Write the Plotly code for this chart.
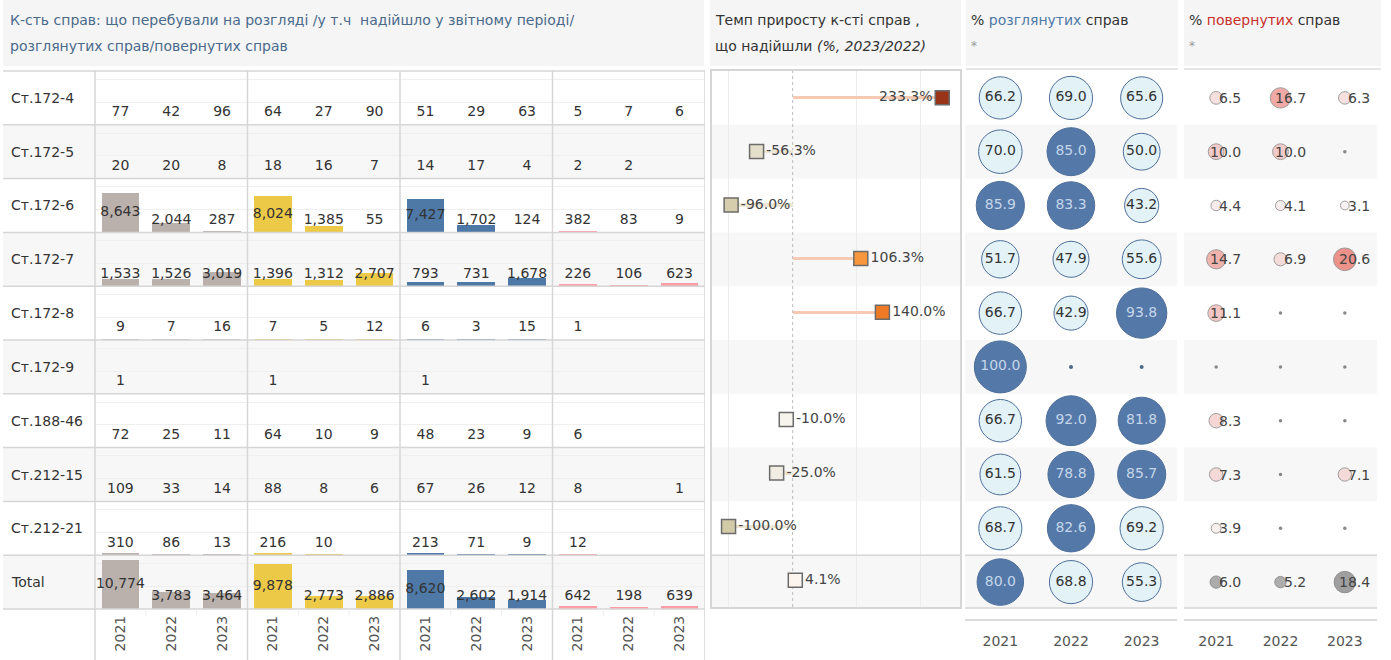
import plotly.graph_objects as go

# ---------------- data ----------------
rows = ["Ст.172-4", "Ст.172-5", "Ст.172-6", "Ст.172-7", "Ст.172-8", "Ст.172-9",
        "Ст.188-46", "Ст.212-15", "Ст.212-21", "Total"]
years = ["2021", "2022", "2023"]

pending = [[77, 42, 96], [20, 20, 8], [8643, 2044, 287], [1533, 1526, 3019], [9, 7, 16],
           [1, None, None], [72, 25, 11], [109, 33, 14], [310, 86, 13], [10774, 3783, 3464]]
received = [[64, 27, 90], [18, 16, 7], [8024, 1385, 55], [1396, 1312, 2707], [7, 5, 12],
            [1, None, None], [64, 10, 9], [88, 8, 6], [216, 10, None], [9878, 2773, 2886]]
considered = [[51, 29, 63], [14, 17, 4], [7427, 1702, 124], [793, 731, 1678], [6, 3, 15],
              [1, None, None], [48, 23, 9], [67, 26, 12], [213, 71, 9], [8620, 2602, 1914]]
returned = [[5, 7, 6], [2, 2, None], [382, 83, 9], [226, 106, 623], [1, None, None],
            [None, None, None], [6, None, None], [8, None, 1], [12, None, None], [642, 198, 639]]

growth = [233.3, -56.3, -96.0, 106.3, 140.0, None, -10.0, -25.0, -100.0, 4.1]

pct_considered = [[66.2, 69.0, 65.6], [70.0, 85.0, 50.0], [85.9, 83.3, 43.2], [51.7, 47.9, 55.6],
                  [66.7, 42.9, 93.8], [100.0, None, None], [66.7, 92.0, 81.8], [61.5, 78.8, 85.7],
                  [68.7, 82.6, 69.2], [80.0, 68.8, 55.3]]
pct_returned = [[6.5, 16.7, 6.3], [10.0, 10.0, None], [4.4, 4.1, 3.1], [14.7, 6.9, 20.6],
                [11.1, None, None], [None, None, None], [8.3, None, None], [7.3, None, 7.1],
                [3.9, None, None], [6.0, 5.2, 18.4]]

group_colors = ["#BAB0AC", "#EDC948", "#4E79A7", "#FF9DA7"]

# ---------------- layout helpers ----------------
W, H = 1391, 660
FONT = "DejaVu Sans"
TOP, BOT = 71, 609
NR = len(rows)
RH = (BOT - TOP) / NR
YMAX = 11800
LABEL_FLOOR = 12 / RH * YMAX
GRID = "#d6d6d6"
ROWBG = "#f7f7f7"


def px(x):
    return x / W


def py(y):
    return 1 - y / H


fig = go.Figure()
shapes = []
annotations = []

# ---------------- left table: bars ----------------
groups = [pending, received, considered, returned]
for r in range(NR):
    yname = "y" if r == 0 else f"y{r + 1}"
    xs_all, ys_all, txt_all = [], [], []
    for g, data in enumerate(groups):
        xs = [3 * g + j for j in range(3)]
        vals = data[r]
        fig.add_trace(go.Bar(x=xs, y=vals, xaxis="x", yaxis=yname, width=0.74,
                             marker=dict(color=group_colors[g], line=dict(width=0)),
                             hoverinfo="skip"))
        for x, v in zip(xs, vals):
            if v is not None:
                xs_all.append(x)
                ys_all.append(max(v / 2, LABEL_FLOOR))
                txt_all.append(f"{v:,}")
    fig.add_trace(go.Scatter(x=xs_all, y=ys_all, text=txt_all, mode="text", xaxis="x", yaxis=yname,
                             textposition="middle center", cliponaxis=False,
                             textfont=dict(family=FONT, size=14, color="#333333"), hoverinfo="skip"))

# ---------------- growth chart ----------------
g_rows = [rw for rw, v in zip(rows, growth) if v is not None]
g_vals = [v for v in growth if v is not None]
fig.add_trace(go.Bar(x=g_vals, y=g_rows, orientation="h", width=0.06, xaxis="x2", yaxis="y11",
                     marker=dict(color=["#f6c9b2" if v > 0 else "#ece6d4" for v in g_vals],
                                 line=dict(width=0)), hoverinfo="skip"))
fig.add_trace(go.Scatter(
    x=g_vals, y=g_rows, xaxis="x2", yaxis="y11", mode="markers+text",
    text=[f"{v:.1f}%" for v in g_vals],
    textposition=["middle left" if v > 200 else "middle right" for v in g_vals],
    textfont=dict(family=FONT, size=14, color="#444444"),
    marker=dict(symbol="square", size=14, color=g_vals, cmin=-100, cmax=233.3,
                colorscale=[[0, "#d3cba8"], [0.3, "#fbf8f6"], [0.62, "#f7963b"],
                            [0.72, "#ee7a25"], [1, "#9a3418"]],
                line=dict(color="#6b6b6b", width=1.5)),
    cliponaxis=False, hoverinfo="skip"))

# ---------------- % considered bubbles ----------------
bx, by, bv, dx, dy = [], [], [], [], []
for r in range(NR):
    for j, yr in enumerate(years):
        v = pct_considered[r][j]
        if v is None:
            dx.append(yr); dy.append(rows[r])
        else:
            bx.append(yr); by.append(rows[r]); bv.append(v)
fig.add_trace(go.Scatter(
    x=bx, y=by, xaxis="x3", yaxis="y12", mode="markers+text",
    text=[f"{v:.1f}" for v in bv], textposition="middle center",
    textfont=dict(family=FONT, size=14, color=["#c4d6ea" if v >= 75 else "#333333" for v in bv]),
    marker=dict(size=bv, sizemode="area", sizeref=2 * 100 / 52 ** 2,
                color=["#5479a8" if v >= 75 else "#e2f2f7" for v in bv],
                line=dict(color="#4e6f9a", width=1), opacity=1),
    cliponaxis=False, hoverinfo="skip"))
fig.add_trace(go.Scatter(x=dx, y=dy, xaxis="x3", yaxis="y12", mode="markers",
                         marker=dict(size=4, color="#4e6a8a"), hoverinfo="skip"))

# ---------------- % returned bubbles ----------------
rx, ry, rv, tx, ty, tv, ex, ey = [], [], [], [], [], [], [], []
for r in range(NR):
    for j, yr in enumerate(years):
        v = pct_returned[r][j]
        if v is None:
            ex.append(yr); ey.append(rows[r])
        elif rows[r] == "Total":
            tx.append(yr); ty.append(rows[r]); tv.append(v)
        else:
            rx.append(yr); ry.append(rows[r]); rv.append(v)
        if v is not None:
            # category index positions on the x4 / y13 axes
            annotations.append(dict(x=j, y=r, xref="x4", yref="y13", text=f"{v:.1f}",
                                    showarrow=False, xanchor="right", yanchor="middle", xshift=27,
                                    font=dict(family=FONT, size=14, color="#444444")))
fig.add_trace(go.Scatter(
    x=rx, y=ry, xaxis="x4", yaxis="y13", mode="markers",
    marker=dict(size=rv, sizemode="area", sizeref=0.08, color=rv, cmin=3, cmax=21,
                colorscale=[[0, "#f6eeee"], [1, "#e8655b"]], line=dict(color="#777777", width=1)),
    cliponaxis=False, hoverinfo="skip"))
fig.add_trace(go.Scatter(
    x=tx, y=ty, xaxis="x4", yaxis="y13", mode="markers",
    marker=dict(size=tv, sizemode="area", sizeref=0.08, color=tv, cmin=5, cmax=19,
                colorscale=[[0, "#8e8e8e"], [1, "#7a7a7a"]], line=dict(color="#666666", width=1)),
    cliponaxis=False, hoverinfo="skip"))
fig.add_trace(go.Scatter(x=ex, y=ey, xaxis="x4", yaxis="y13", mode="markers",
                         marker=dict(size=3.5, color="#888888"), hoverinfo="skip"))

# ---------------- axes ----------------
layout_axes = {}
layout_axes["xaxis"] = dict(domain=[px(95), px(705)], range=[-0.5, 11.5], anchor="y10",
                            tickvals=list(range(12)), ticktext=years * 4, tickangle=-90,
                            showgrid=False, zeroline=False, showline=False, ticks="",
                            ticklabelstandoff=3,
                            tickfont=dict(family=FONT, size=14, color="#555555"), fixedrange=True)
for r in range(NR):
    key = "yaxis" if r == 0 else f"yaxis{r + 1}"
    layout_axes[key] = dict(domain=[py(TOP + RH * (r + 1)), py(TOP + RH * r)], range=[0, YMAX],
                            anchor="x", showticklabels=False, showgrid=True, gridcolor="#efefef",
                            gridwidth=1, dtick=5000, tick0=0, zeroline=False, showline=False,
                            fixedrange=True)
layout_axes["xaxis2"] = dict(domain=[px(711.5), px(960)], range=[-126.6, 261], anchor="y11",
                             tickvals=[-100, 100, 200], showticklabels=False, showgrid=True,
                             gridcolor="#ececec", zeroline=False, showline=True, mirror=True,
                             linecolor=GRID, linewidth=1.5, ticks="")
layout_axes["yaxis11"] = dict(domain=[py(607), py(TOP)], type="category", categoryarray=rows,
                              range=[NR - 0.5, -0.5], anchor="x2", showticklabels=False,
                              showgrid=False, zeroline=False, showline=True, mirror=True,
                              linecolor=GRID, linewidth=1.5, ticks="")
for key, dom in [("xaxis3", [px(965), px(1177)]), ("xaxis4", [px(1184), px(1377)])]:
    layout_axes[key] = dict(domain=dom, type="category", categoryarray=years,
                            range=[-0.5, 2.5], anchor="free", position=py(620), showgrid=False,
                            zeroline=False, showline=True, linecolor="#dcdcdc", linewidth=1.5,
                            ticks="", ticklabelstandoff=8,
                            tickfont=dict(family=FONT, size=14, color="#555555"))
for key, anc in [("yaxis12", "x3"), ("yaxis13", "x4")]:
    layout_axes[key] = dict(domain=[py(BOT), py(TOP)], type="category", categoryarray=rows,
                            range=[NR - 0.5, -0.5], anchor=anc, showticklabels=False,
                            showgrid=False, zeroline=False, showline=False)

# ---------------- decorations ----------------
panels_x = [(3, 705), (711.5, 960), (965, 1177), (1184, 1377)]
for r in range(NR):
    if r % 2 == 1:
        for (x0, x1) in panels_x:
            shapes.append(dict(type="rect", xref="paper", yref="paper", x0=px(x0), x1=px(x1),
                               y0=py(TOP + RH * (r + 1)), y1=py(TOP + RH * r),
                               fillcolor=ROWBG, line=dict(width=0), layer="below"))
# header blocks
for (x0, x1) in [(3, 704), (710, 961), (966, 1178), (1184, 1381)]:
    shapes.append(dict(type="rect", xref="paper", yref="paper", x0=px(x0), x1=px(x1),
                       y0=py(66), y1=py(0), fillcolor="#f5f5f5", line=dict(width=0), layer="below"))
for (x0, x1) in [(966, 1178), (1184, 1381)]:
    shapes.append(dict(type="line", xref="paper", yref="paper", x0=px(x0), x1=px(x1),
                       y0=py(69), y1=py(69), line=dict(color="#dddddd", width=1.5)))
# left table row separators
for k in range(NR + 1):
    shapes.append(dict(type="line", xref="paper", yref="paper", x0=px(3), x1=px(705),
                       y0=py(TOP + RH * k), y1=py(TOP + RH * k), line=dict(color=GRID, width=1.5)))
# vertical dividers in left table
for xv in [2.5, 5.5, 8.5, 11.5]:
    shapes.append(dict(type="line", xref="x", yref="paper", x0=xv, x1=xv, y0=py(TOP), y1=0,
                       line=dict(color=GRID, width=1.5)))
shapes.append(dict(type="line", xref="paper", yref="paper", x0=px(95), x1=px(95), y0=py(TOP), y1=0,
                   line=dict(color=GRID, width=1.5)))
# faint column ticks under left table
for xv in [0.5, 1.5, 3.5, 4.5, 6.5, 7.5, 9.5, 10.5]:
    shapes.append(dict(type="line", xref="x", yref="paper", x0=xv, x1=xv, y0=py(BOT), y1=py(616),
                       line=dict(color="#eeeeee", width=1)))
# zero reference line in growth chart (below the marks)
shapes.append(dict(type="line", xref="x2", yref="y11 domain", x0=0, x1=0, y0=0, y1=1,
                   line=dict(color="#bbbbbb", width=1, dash="dot"), layer="below"))
# total separators + bottom lines in bubble panels
for (x0, x1) in [(965, 1177), (1184, 1377)]:
    for yy in [TOP + RH * (NR - 1), 608]:
        shapes.append(dict(type="line", xref="paper", yref="paper", x0=px(x0), x1=px(x1),
                           y0=py(yy), y1=py(yy), line=dict(color=GRID, width=1.5)))
shapes.append(dict(type="line", xref="paper", yref="paper", x0=px(711.5), x1=px(960),
                   y0=py(TOP + RH * (NR - 1)), y1=py(TOP + RH * (NR - 1)),
                   line=dict(color=GRID, width=1.5)))

# row labels
for r, name in enumerate(rows):
    annotations.append(dict(x=px(9), y=py(TOP + RH * (r + 0.5)), xref="paper", yref="paper",
                            text=name, showarrow=False, xanchor="left", yanchor="middle",
                            font=dict(family=FONT, size=14, color="#333333")))

# headers
hdr = dict(showarrow=False, xref="paper", yref="paper", xanchor="left", yanchor="middle")
annotations += [
    dict(hdr, x=px(8), y=py(20), text="К-сть справ: що перебували на розгляді /у т.ч  надійшло у звітному періоді/",
         font=dict(family=FONT, size=14, color="#4a6a8c")),
    dict(hdr, x=px(8), y=py(46), text="розглянутих справ/повернутих справ",
         font=dict(family=FONT, size=14, color="#4a6a8c")),
    dict(hdr, x=px(713), y=py(20), text="Темп приросту к-сті справ ,",
         font=dict(family=FONT, size=14, color="#333333")),
    dict(hdr, x=px(713), y=py(46), text="що надійшли <i>(%, 2023/2022)</i>",
         font=dict(family=FONT, size=14, color="#333333")),
    dict(hdr, x=px(969), y=py(20),
         text="% <span style='color:#4e79a7'>розглянутих</span> справ",
         font=dict(family=FONT, size=14, color="#333333")),
    dict(hdr, x=px(969), y=py(46), text="*", font=dict(family=FONT, size=12, color="#999999")),
    dict(hdr, x=px(1187), y=py(20),
         text="% <span style='color:#c8302c'>повернутих</span> справ",
         font=dict(family=FONT, size=14, color="#333333")),
    dict(hdr, x=px(1187), y=py(46), text="*", font=dict(family=FONT, size=12, color="#999999")),
]

fig.update_layout(
    width=W, height=H, margin=dict(l=0, r=0, t=0, b=0),
    paper_bgcolor="white", plot_bgcolor="rgba(0,0,0,0)",
    showlegend=False, barmode="overlay", bargap=0,
    shapes=shapes, annotations=annotations,
    font=dict(family=FONT, size=14, color="#333333"),
    **layout_axes,
)

fig.write_html("out.html", config={"displayModeBar": False},
               post_script="document.body.style.margin='0';document.body.style.padding='0';"
                           "document.body.style.overflow='hidden';")
